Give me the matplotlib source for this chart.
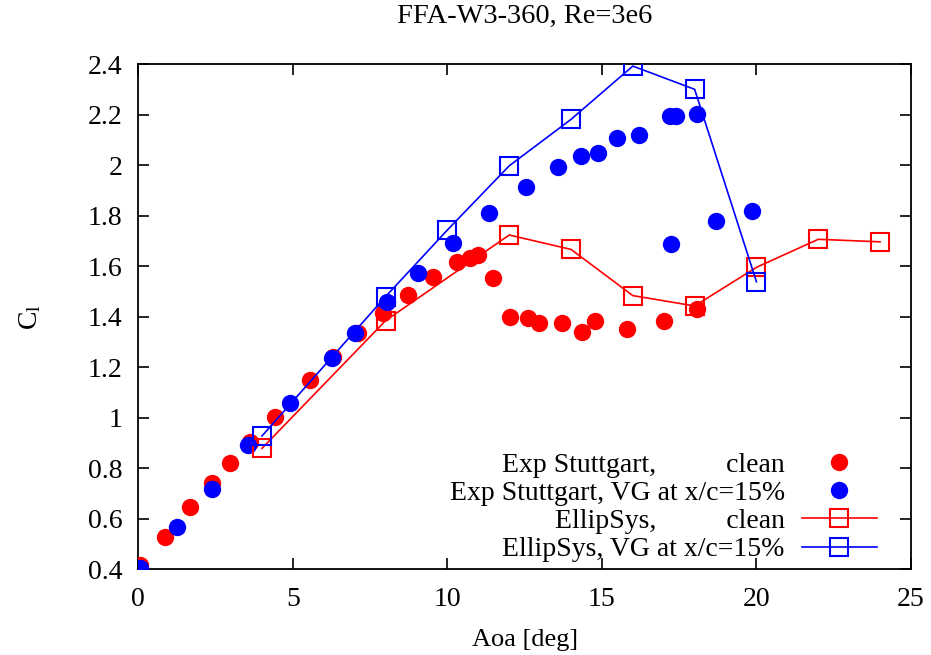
import matplotlib
matplotlib.use("Agg")
import matplotlib.pyplot as plt

plt.rcParams['font.family'] = ['Liberation Serif', 'DejaVu Serif']
plt.rcParams['mathtext.fontset'] = 'custom'
plt.rcParams['mathtext.rm'] = 'Liberation Serif'
plt.rcParams['mathtext.it'] = 'Liberation Serif'

# ---- data ----
exp_clean_aoa = [0.05, 0.86, 1.67, 2.37, 2.97, 3.61, 4.42, 5.55, 6.31, 7.12, 7.93, 8.74, 9.55,
                 10.3, 10.73, 11.0, 11.48, 12.02, 12.62, 12.95, 13.7, 14.37, 14.78, 15.8, 17.0, 18.09]
exp_clean_cl = [0.417, 0.527, 0.648, 0.74, 0.822, 0.905, 1.004, 1.15, 1.242, 1.335, 1.414, 1.486, 1.559,
                1.618, 1.632, 1.645, 1.553, 1.40, 1.394, 1.374, 1.374, 1.341, 1.385, 1.35, 1.385, 1.43]

exp_vg_aoa = [0.05, 1.24, 2.37, 3.56, 4.91, 6.26, 7.01, 8.04, 9.06, 10.19, 11.36, 12.54, 13.59,
              14.32, 14.87, 15.48, 16.2, 17.2, 17.4, 18.07, 17.24, 18.7, 19.84]
exp_vg_cl = [0.404, 0.569, 0.717, 0.892, 1.057, 1.236, 1.335, 1.457, 1.572, 1.691, 1.81, 1.913, 1.994,
             2.038, 2.05, 2.107, 2.12, 2.196, 2.196, 2.203, 1.688, 1.78, 1.818]

ell_clean_aoa = [4, 8, 12, 14, 16, 18, 20, 22, 24]
ell_clean_cl = [0.879, 1.385, 1.724, 1.667, 1.484, 1.443, 1.596, 1.707, 1.697]

ell_vg_aoa = [4, 8, 10, 12, 14, 16, 18, 20]
ell_vg_cl = [0.928, 1.48, 1.744, 1.998, 2.182, 2.393, 2.301, 1.539]

x_ticks = [0, 5, 10, 15, 20, 25]
y_ticks = [0.4, 0.6, 0.8, 1.0, 1.2, 1.4, 1.6, 1.8, 2.0, 2.2, 2.4]
y_tick_labels = ["0.4", "0.6", "0.8", "1", "1.2", "1.4", "1.6", "1.8", "2", "2.2", "2.4"]

labels = ["Exp Stuttgart,          clean",
          "Exp Stuttgart, VG at x/c=15%",
          "EllipSys,          clean",
          "EllipSys, VG at x/c=15%"]

# ---- figure ----
fig = plt.figure(figsize=(9.31, 6.55), dpi=100)
ax = fig.add_axes([0.1486, 0.1308, 0.8299, 0.7710])

ax.plot(exp_clean_aoa, exp_clean_cl, linestyle='none', marker='o', markersize=12.5,
        color='#ff0000', markeredgewidth=0, label=labels[0], zorder=3)
ax.plot(exp_vg_aoa, exp_vg_cl, linestyle='none', marker='o', markersize=12.5,
        color='#0000ff', markeredgewidth=0, label=labels[1], zorder=4)
ax.plot(ell_clean_aoa, ell_clean_cl, linestyle='-', linewidth=1.2, marker='s', markersize=12.5,
        markerfacecolor='none', markeredgecolor='#ff0000', markeredgewidth=1.5,
        color='#ff0000', label=labels[2], zorder=5)
ax.plot(ell_vg_aoa, ell_vg_cl, linestyle='-', linewidth=1.2, marker='s', markersize=12.5,
        markerfacecolor='none', markeredgecolor='#0000ff', markeredgewidth=1.5,
        color='#0000ff', label=labels[3], zorder=6)

ax.set_xlim(0, 25)
ax.set_ylim(0.4, 2.4)
ax.set_xticks(x_ticks)
ax.set_xticklabels([str(t) for t in x_ticks])
ax.set_yticks(y_ticks)
ax.set_yticklabels(y_tick_labels)
ax.tick_params(axis='both', direction='in', length=8, width=1.2, top=True, right=True,
               labelsize=20, colors='black')
ax.tick_params(axis='x', pad=13)
ax.tick_params(axis='y', pad=11.5)
for s in ax.spines.values():
    s.set_linewidth(1.3)

ax.set_xlabel("Aoa [deg]", fontsize=19, va='center')
ax.xaxis.set_label_coords(0.5, -0.14)
ax.set_ylabel(r"$\mathrm{C_l}$", fontsize=20, va='center')
ax.yaxis.set_label_coords(-0.14, 0.5)

fig.text(0.5636, 1 - 16 / 655, "FFA-W3-360, Re=3e6", fontsize=20.5, ha='center', va='center')

leg = ax.legend(loc='lower right', bbox_to_anchor=(0.956, 0.014), frameon=False,
                markerfirst=False, fontsize=20, handlelength=2.7, handletextpad=0.62,
                labelspacing=0.1, borderpad=0, borderaxespad=0)
for col in leg._legend_handle_box.get_children():
    col.align = 'right'

fig.savefig("out.png", dpi=100)
